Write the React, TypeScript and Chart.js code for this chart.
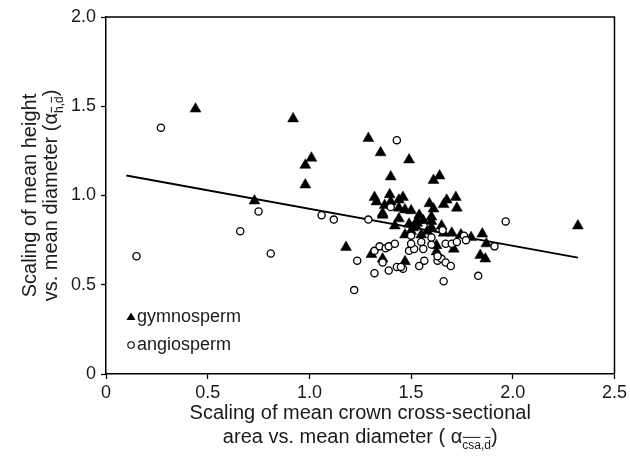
import React, { useEffect, useRef } from "react";
import { Chart, registerables } from "chart.js";

Chart.register(...registerables);

// ---- data ----
const gymnoX = [0.44, 0.73, 0.92, 0.98, 0.98, 1.01, 1.18, 1.29, 1.35, 1.49, 1.40, 1.64, 1.61, 1.32, 1.395, 1.46, 1.44, 1.33, 1.37, 1.40, 1.44, 1.47, 1.50, 1.36, 1.54, 1.44, 1.42, 1.49, 1.53, 1.59, 1.61, 1.60, 1.60, 1.66, 1.675, 1.72, 1.725, 1.60, 1.65, 1.66, 1.70, 1.745, 1.795, 1.85, 1.87, 1.84, 1.865, 1.71, 1.625, 1.625, 1.55, 1.47, 1.51, 1.305, 1.36, 1.47, 2.32, 1.52, 1.53, 1.56, 1.58, 1.50, 1.36];
const gymnoY = [1.485, 0.97, 1.43, 1.17, 1.06, 1.21, 0.71, 1.32, 1.24, 1.20, 1.105, 1.11, 1.085, 0.99, 1.005, 0.99, 0.975, 0.965, 0.945, 0.965, 0.93, 0.92, 0.915, 0.89, 0.89, 0.87, 0.83, 0.84, 0.845, 0.955, 0.925, 0.88, 0.855, 0.95, 0.975, 0.99, 0.93, 0.82, 0.83, 0.79, 0.79, 0.78, 0.765, 0.785, 0.73, 0.665, 0.645, 0.70, 0.72, 0.685, 0.78, 0.78, 0.82, 0.67, 0.645, 0.63, 0.83, 0.835, 0.86, 0.86, 0.80, 0.80, 0.90];

const angioX = [0.15, 0.27, 0.66, 0.75, 0.81, 1.06, 1.12, 1.29, 1.40, 1.43, 1.965, 1.91, 1.83, 1.66, 1.22, 1.235, 1.32, 1.39, 1.43, 1.46, 1.36, 1.54, 1.565, 1.32, 1.345, 1.375, 1.39, 1.42, 1.49, 1.515, 1.50, 1.50, 1.55, 1.56, 1.60, 1.60, 1.63, 1.65, 1.67, 1.695, 1.655, 1.67, 1.70, 1.725, 1.76, 1.77, 1.45, 1.63];
const angioY = [0.66, 1.38, 0.80, 0.91, 0.675, 0.89, 0.865, 0.865, 0.935, 1.31, 0.855, 0.715, 0.55, 0.52, 0.47, 0.635, 0.565, 0.58, 0.60, 0.59, 0.625, 0.605, 0.635, 0.69, 0.715, 0.705, 0.715, 0.73, 0.69, 0.70, 0.73, 0.775, 0.74, 0.70, 0.725, 0.765, 0.635, 0.645, 0.625, 0.605, 0.805, 0.73, 0.73, 0.74, 0.775, 0.75, 0.60, 0.66];

const fitX = [0.1, 2.32];
const fitY = [1.112, 0.652];

const xTickValues = [0, 0.5, 1, 1.5, 2, 2.5];
const yTickValues = [0, 0.5, 1, 1.5, 2];
const legendLabels = ["gymnosperm", "angiosperm"];

const FONT = "'Liberation Sans', Arial, Helvetica, sans-serif";
const INK = "#1a1a1a";

type Seg = { t: string; sub?: boolean; bar?: boolean };

function drawSegs(
  ctx: CanvasRenderingContext2D,
  segs: Seg[],
  cx: number,
  cy: number,
  rot: number,
  size: number
) {
  const subSize = Math.round(size * 0.62);
  const base = `${size}px ${FONT}`;
  const subF = `${subSize}px ${FONT}`;
  ctx.save();
  ctx.translate(cx, cy);
  ctx.rotate(rot);
  ctx.fillStyle = INK;
  ctx.strokeStyle = INK;
  ctx.textBaseline = "alphabetic";
  ctx.textAlign = "left";
  const widths = segs.map((s) => {
    ctx.font = s.sub ? subF : base;
    return ctx.measureText(s.t).width;
  });
  const total = widths.reduce((a, b) => a + b, 0);
  let x = -total / 2;
  const baseY = size * 0.36;
  segs.forEach((s, i) => {
    ctx.font = s.sub ? subF : base;
    const y = s.sub ? baseY + size * 0.28 : baseY;
    ctx.fillText(s.t, x, y);
    if (s.bar) {
      const by = y - subSize * 0.95;
      ctx.lineWidth = 1;
      ctx.beginPath();
      ctx.moveTo(x + 0.5, by);
      ctx.lineTo(x + widths[i] - 0.5, by);
      ctx.stroke();
    }
    x += widths[i];
  });
  ctx.restore();
}

const decorPlugin = {
  id: "decor",
  beforeDatasetsDraw(chart: any) {
    const { ctx, chartArea } = chart;
    ctx.save();
    ctx.strokeStyle = "#000";
    ctx.lineWidth = 1.5;
    ctx.beginPath();
    ctx.moveTo(chartArea.left, chartArea.top);
    ctx.lineTo(chartArea.right, chartArea.top);
    ctx.lineTo(chartArea.right, chartArea.bottom);
    ctx.stroke();
    ctx.restore();
  },
  afterDraw(chart: any) {
    const { ctx, chartArea } = chart;
    const midX = (chartArea.left + chartArea.right) / 2;
    const midY = (chartArea.top + chartArea.bottom) / 2;
    // y-axis title
    drawSegs(ctx, [{ t: "Scaling of mean height" }], 29, midY, -Math.PI / 2, 20);
    drawSegs(
      ctx,
      [
        { t: "vs. mean diameter (α" },
        { t: "h", sub: true, bar: true },
        { t: ",", sub: true },
        { t: "d", sub: true, bar: true },
        { t: ")" },
      ],
      50,
      midY,
      -Math.PI / 2,
      20
    );
    // x-axis title
    drawSegs(ctx, [{ t: "Scaling of mean crown cross-sectional" }], midX, 412, 0, 20);
    drawSegs(
      ctx,
      [
        { t: "area vs. mean diameter ( α" },
        { t: "csa", sub: true, bar: true },
        { t: ",", sub: true },
        { t: "d", sub: true, bar: true },
        { t: ")" },
      ],
      midX,
      436,
      0,
      20
    );
    // legend
    ctx.save();
    ctx.fillStyle = "#000";
    ctx.beginPath();
    const tx = 131, ty = 317;
    ctx.moveTo(tx, ty - 4.5);
    ctx.lineTo(tx + 4.5, ty + 3);
    ctx.lineTo(tx - 4.5, ty + 3);
    ctx.closePath();
    ctx.fill();
    ctx.beginPath();
    ctx.arc(131, 345, 3.2, 0, Math.PI * 2);
    ctx.strokeStyle = "#000";
    ctx.lineWidth = 1.1;
    ctx.stroke();
    ctx.fillStyle = INK;
    ctx.font = `18px ${FONT}`;
    ctx.textBaseline = "middle";
    ctx.textAlign = "left";
    ctx.fillText(legendLabels[0], 137, 317);
    ctx.fillText(legendLabels[1], 137, 345);
    ctx.restore();
  },
};

const fmt = (v: number) => (v === 0 ? "0" : v.toFixed(1));

export default function App() {
  const ref = useRef<HTMLCanvasElement | null>(null);
  useEffect(() => {
    if (!ref.current) return;
    const chart = new Chart(ref.current, {
      type: "scatter",
      data: {
        datasets: [
          {
            label: legendLabels[1],
            data: angioX.map((x, i) => ({ x, y: angioY[i] })),
            pointStyle: "circle",
            pointRadius: 3.6,
            pointBackgroundColor: "#fff",
            pointBorderColor: "#000",
            pointBorderWidth: 1.3,
            order: 1,
          },
          {
            label: legendLabels[0],
            data: gymnoX.map((x, i) => ({ x, y: gymnoY[i] })),
            pointStyle: "triangle",
            pointRadius: 6.3,
            pointBackgroundColor: "#000",
            pointBorderColor: "#000",
            pointBorderWidth: 0.5,
            order: 2,
          },
          {
            type: "line" as any,
            label: "fit",
            data: fitX.map((x, i) => ({ x, y: fitY[i] })),
            borderColor: "#000",
            borderWidth: 1.8,
            pointRadius: 0,
            fill: false,
            order: 3,
          },
        ] as any,
      },
      options: {
        animation: false,
        responsive: false,
        maintainAspectRatio: false,
        layout: { padding: { left: 0, top: 17, right: 12, bottom: 0 } },
        plugins: {
          legend: { display: false },
          tooltip: { enabled: false },
        },
        scales: {
          x: {
            type: "linear",
            min: 0,
            max: 2.5,
            afterFit: (s: any) => {
              s.height = 86;
            },
            afterBuildTicks: (s: any) => {
              s.ticks = xTickValues.map((v) => ({ value: v }));
            },
            ticks: {
              callback: (v: any) => fmt(Number(v)),
              color: INK,
              font: { family: FONT, size: 18 },
              padding: 3,
              maxRotation: 0,
            },
            grid: {
              drawOnChartArea: false,
              drawTicks: true,
              tickLength: 5,
              tickColor: "#000",
              tickWidth: 1.3,
            },
            border: { display: true, color: "#000", width: 1.5 },
          },
          y: {
            type: "linear",
            min: 0,
            max: 2,
            afterFit: (s: any) => {
              s.width = 106;
            },
            afterBuildTicks: (s: any) => {
              s.ticks = yTickValues.map((v) => ({ value: v }));
            },
            ticks: {
              callback: (v: any) => fmt(Number(v)),
              color: INK,
              font: { family: FONT, size: 18 },
              padding: 5,
            },
            grid: {
              drawOnChartArea: false,
              drawTicks: true,
              tickLength: 5,
              tickColor: "#000",
              tickWidth: 1.3,
            },
            border: { display: true, color: "#000", width: 1.5 },
          },
        },
      },
      plugins: [decorPlugin],
    });
    return () => chart.destroy();
  }, []);
  return (
    <div style={{ position: "fixed", left: 0, top: 0, width: 630, height: 460, background: "#fff" }}>
      <canvas ref={ref} width={630} height={460} style={{ width: 630, height: 460 }} />
    </div>
  );
}
